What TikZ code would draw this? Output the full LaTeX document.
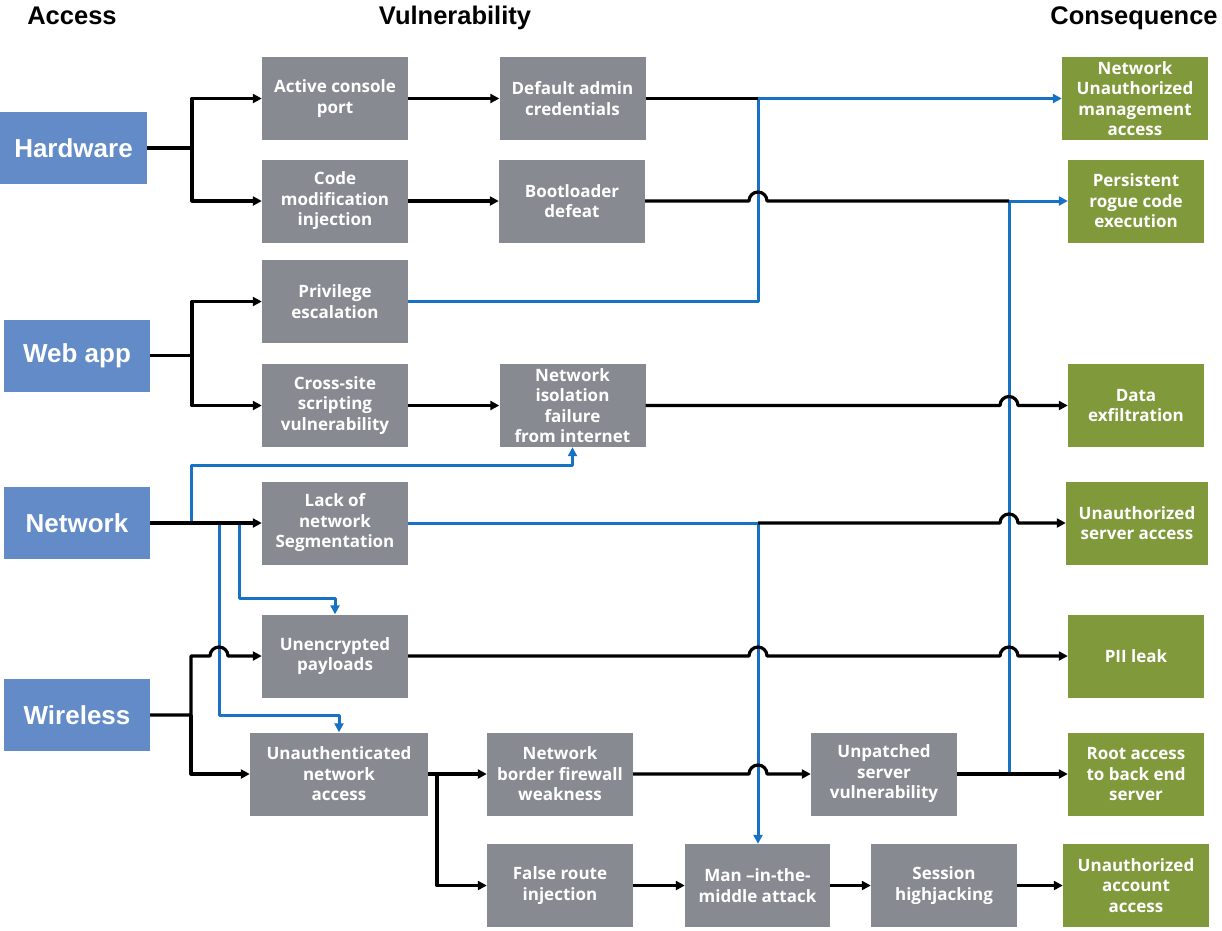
\documentclass[tikz,border=0pt]{standalone}
\usepackage{fontspec}
\setmainfont{Liberation Sans}
\newfontfamily\boxfont{Open Sans}
\usetikzlibrary{arrows.meta,calc}
\definecolor{accblue}{RGB}{98,139,200}
\definecolor{vulgray}{RGB}{135,139,145}
\definecolor{consgreen}{RGB}{127,153,59}
\definecolor{linkblue}{RGB}{23,114,196}
\begin{document}
\begin{tikzpicture}[x=1pt,y=1pt,
  access/.style={fill=accblue, text=white, font=\fontsize{26}{30}\selectfont\bfseries,
    minimum width=146pt, minimum height=72pt, inner sep=0pt},
  vul/.style={fill=vulgray, text=white, font=\boxfont\fontsize{17}{20.5}\selectfont\bfseries,
    align=center, minimum width=146pt, minimum height=83pt, inner sep=0pt},
  cons/.style={vul, fill=consgreen},
  title/.style={font=\fontsize{25.5}{30}\selectfont\bfseries, anchor=base},
  bline/.style={line width=3.2pt, black, line join=round},
  blk/.style={bline, -{Triangle[length=9pt,width=9pt]}},
  uline/.style={line width=3pt, linkblue, line join=round},
  blu/.style={uline, -{Triangle[length=9pt,width=9pt]}}
]
\useasboundingbox (0,0) rectangle (1222,-930);

% titles
\node[title] (tacc) at (72,-24) {Access};
\node[title] (tvul) at (455,-24) {Vulnerability};
\node[title] (tcon) at (1134,-24) {Consequence};

% access
\node[access, minimum width=147pt] (hw) at (73.5,-148) {Hardware};
\node[access] (web) at (77,-355.5) {Web app};
\node[access] (net) at (77,-523) {Network};
\node[access] (wls) at (77,-715) {Wireless};

% vulnerabilities
\node[vul] (acp) at (335,-98.5) {Active console\\port};
\node[vul] (cmi) at (335,-201) {Code\\modification\\injection};
\node[vul] (pe) at (335,-301.5) {Privilege\\escalation};
\node[vul] (xss) at (335,-405.5) {Cross-site\\scripting\\vulnerability};
\node[vul] (lns) at (335,-523) {Lack of\\network\\Segmentation};
\node[vul] (unp) at (335,-656) {Unencrypted\\payloads};
\node[vul, minimum width=178pt] (ua) at (339,-774) {Unauthenticated\\network\\access};
\node[vul] (dac) at (572.5,-98.5) {Default admin\\credentials};
\node[vul] (bld) at (572,-201) {Bootloader\\defeat};
\node[vul] (nif) at (572.5,-405.5) {Network\\isolation\\failure\\from internet};
\node[vul] (nbf) at (560,-774) {Network\\border firewall\\weakness};
\node[vul] (fri) at (560,-885.5) {False route\\injection};
\node[vul, minimum width=145pt] (mitm) at (757.5,-885.5) {Man –in-the-\\middle attack};
\node[vul] (up) at (884,-774) {Unpatched\\server\\vulnerability};
\node[vul] (sh) at (944,-885.5) {Session\\highjacking};

% consequences
\node[cons] (nua) at (1135,-98.5) {Network\\Unauthorized\\management\\access};
\node[cons, minimum width=136pt] (prc) at (1136,-201) {Persistent\\rogue code\\execution};
\node[cons, minimum width=136pt] (de) at (1136,-405.5) {Data\\exfiltration};
\node[cons, minimum width=142pt] (usa) at (1137,-523) {Unauthorized\\server access};
\node[cons, minimum width=136pt] (pii) at (1136,-656.5) {PII leak};
\node[cons, minimum width=136pt] (ra) at (1136,-774) {Root access\\to back end\\server};
\node[cons] (uaa) at (1136,-885.5) {Unauthorized\\account\\access};

% helper coordinates
\coordinate (bx) at (192,0);
\coordinate (bn1) at (191,0);
\coordinate (bn2) at (219,0);
\coordinate (bn3) at (239,0);
\coordinate (bu) at (437,0);
\coordinate (v1) at (758,0);
\coordinate (v2) at (1009,0);
\coordinate (h1) at (0,-465);
\coordinate (h2) at (0,-598);
\coordinate (h3) at (0,-715);

% blue connectors
\draw[blu] (pe.east) -- (v1 |- pe.east) |- (nua.west);
\draw[uline] (lns.east) -- (v1 |- lns.east);
\draw[blu] (v1 |- lns.east) -- (v1 |- mitm.north);
\draw[blu] (v2 |- up.east) |- (prc.west);
\draw[blu] (bn1 |- net.east) -- (bn1 |- h1) -| (nif.south);
\draw[blu] (bn3 |- net.east) -- (bn3 |- h2) -| (unp.north);
\draw[blu] (bn2 |- net.east) -- (bn2 |- h3) -| (ua.north);

% black connectors
\draw[blk] (hw.east) -- (bx |- hw.east) |- (acp.west);
\draw[blk] (bx |- hw.east) |- (cmi.west);
\draw[blk] (web.east) -- (bx |- web.east) |- (pe.west);
\draw[blk] (bx |- web.east) |- (xss.west);
\draw[blk] (acp.east) -- (acp.east -| dac.west);
\draw[blk] (cmi.east) -- (cmi.east -| bld.west);
\draw[blk] (xss.east) -- (xss.east -| nif.west);
\draw[blk] (net.east) -- (net.east -| lns.west);
\draw[blk] (ua.east) -- (ua.east -| nbf.west);
\draw[blk] (bu |- ua.east) |- (fri.west);
\draw[blk] (fri.east) -- (mitm.west);
\draw[blk] (mitm.east) -- (sh.west);
\draw[blk] (sh.east) -- (uaa.west);
\draw[blk] (up.east) -- (up.east -| ra.west);

\draw[bline] (dac.east) -- (v1 |- dac.east);
\draw[bline] (bld.east) -- ($(v1 |- bld.east)+(-9,0)$) arc[start angle=180,end angle=0,radius=9]
  -- (v2 |- bld.east);
\draw[blk] (nif.east) -- ($(v2 |- nif.east)+(-9,0)$) arc[start angle=180,end angle=0,radius=9]
  -- (nif.east -| de.west);
\draw[blk] (v1 |- lns.east) -- ($(v2 |- lns.east)+(-9,0)$) arc[start angle=180,end angle=0,radius=9]
  -- (lns.east -| usa.west);
\draw[blk] (unp.east) -- ($(v1 |- unp.east)+(-9,0)$) arc[start angle=180,end angle=0,radius=9]
  -- ($(v2 |- unp.east)+(-9,0)$) arc[start angle=180,end angle=0,radius=9]
  -- (unp.east -| pii.west);
\draw[blk] (nbf.east) -- ($(v1 |- nbf.east)+(-9,0)$) arc[start angle=180,end angle=0,radius=9]
  -- (nbf.east -| up.west);
\draw[blk] (wls.east) -- (bn1 |- wls.east) -- (bn1 |- unp.west)
  -- ($(bn2 |- unp.west)+(-9,0)$) arc[start angle=180,end angle=0,radius=9] -- (unp.west);
\draw[blk] (bn1 |- wls.east) |- (ua.west);
\end{tikzpicture}
\end{document}
